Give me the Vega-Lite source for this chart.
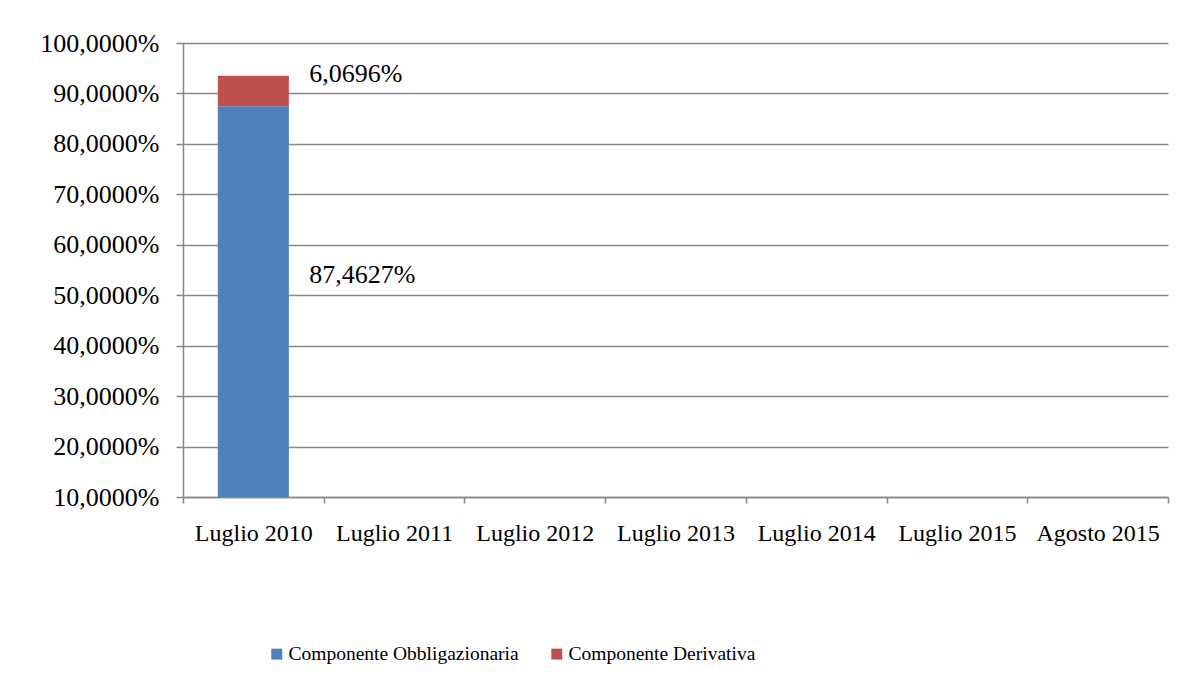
{
  "$schema": "https://vega.github.io/schema/vega-lite/v6.json",
  "width": 985,
  "height": 454,
  "autosize": "none",
  "padding": {"left": 183, "top": 43, "right": 27, "bottom": 187},
  "background": "white",
  "config": {
    "locale": {"number": {"decimal": ",", "thousands": ".", "grouping": [3], "currency": ["€", ""]}},
    "view": {"stroke": null},
    "font": "Liberation Serif"
  },
  "data": {
    "values": [
      {"periodo": "Luglio 2010", "componente": "Componente Obbligazionaria", "valore": 0.874627},
      {"periodo": "Luglio 2010", "componente": "Componente Derivativa", "valore": 0.060696}
    ]
  },
  "encoding": {
    "x": {
      "field": "periodo",
      "type": "nominal",
      "sort": null,
      "scale": {"domain": ["Luglio 2010", "Luglio 2011", "Luglio 2012", "Luglio 2013", "Luglio 2014", "Luglio 2015", "Agosto 2015"], "paddingInner": 0, "paddingOuter": 0},
      "axis": {
        "title": null,
        "labelAngle": 0,
        "labelFont": "Liberation Serif",
        "labelFontSize": 24,
        "labelColor": "#000000",
        "labelPadding": 18,
        "tickBand": "extent",
        "tickSize": 6,
        "tickColor": "#878787",
        "tickWidth": 1.5,
        "domainColor": "#878787",
        "domainWidth": 1.5,
        "grid": false
      }
    },
    "y": {
      "field": "valore",
      "type": "quantitative",
      "stack": "zero",
      "scale": {"domain": [0.1, 1], "zero": false, "nice": false},
      "axis": {
        "title": null,
        "format": ".4%",
        "values": [0.1, 0.2, 0.3, 0.4, 0.5, 0.6, 0.7, 0.8, 0.9, 1.0],
        "labelFont": "Liberation Serif",
        "labelFontSize": 26,
        "labelColor": "#000000",
        "labelPadding": 17,
        "tickSize": 7,
        "tickColor": "#878787",
        "tickWidth": 1.5,
        "domainColor": "#878787",
        "domainWidth": 1.5,
        "grid": true,
        "gridColor": "#878787",
        "gridWidth": 1.5
      }
    }
  },
  "layer": [
    {
      "mark": {"type": "bar", "clip": true, "width": {"band": 0.505}},
      "encoding": {
        "color": {
          "field": "componente",
          "type": "nominal",
          "scale": {"domain": ["Componente Obbligazionaria", "Componente Derivativa"], "range": ["#4F81BD", "#C0504D"]},
          "legend": {
            "title": null,
            "orient": "none",
            "direction": "horizontal",
            "legendX": 84,
            "legendY": 601,
            "symbolType": "square",
            "symbolSize": 120,
            "symbolStrokeWidth": 0,
            "labelFont": "Liberation Serif",
            "labelFontSize": 19.5,
            "labelColor": "#000000",
            "labelOffset": 2,
            "labelLimit": 400,
            "columnPadding": 28
          }
        },
        "order": {"field": "componente", "sort": "descending"}
      }
    },
    {
      "transform": [{"filter": "datum.componente === 'Componente Obbligazionaria'"}],
      "mark": {"type": "text", "align": "left", "baseline": "middle", "dx": 56, "dy": 169, "fontSize": 26, "font": "Liberation Serif", "color": "#000000"},
      "encoding": {"text": {"field": "valore", "type": "quantitative", "format": ".4%"}}
    },
    {
      "transform": [
        {"stack": "valore", "groupby": ["periodo"], "sort": [{"field": "componente", "order": "descending"}], "as": ["v0", "v1"]},
        {"filter": "datum.componente === 'Componente Derivativa'"}
      ],
      "mark": {"type": "text", "align": "left", "baseline": "middle", "dx": 56, "dy": -2, "fontSize": 26, "font": "Liberation Serif", "color": "#000000"},
      "encoding": {
        "y": {"field": "v1", "type": "quantitative"},
        "text": {"field": "valore", "type": "quantitative", "format": ".4%"}
      }
    }
  ]
}
